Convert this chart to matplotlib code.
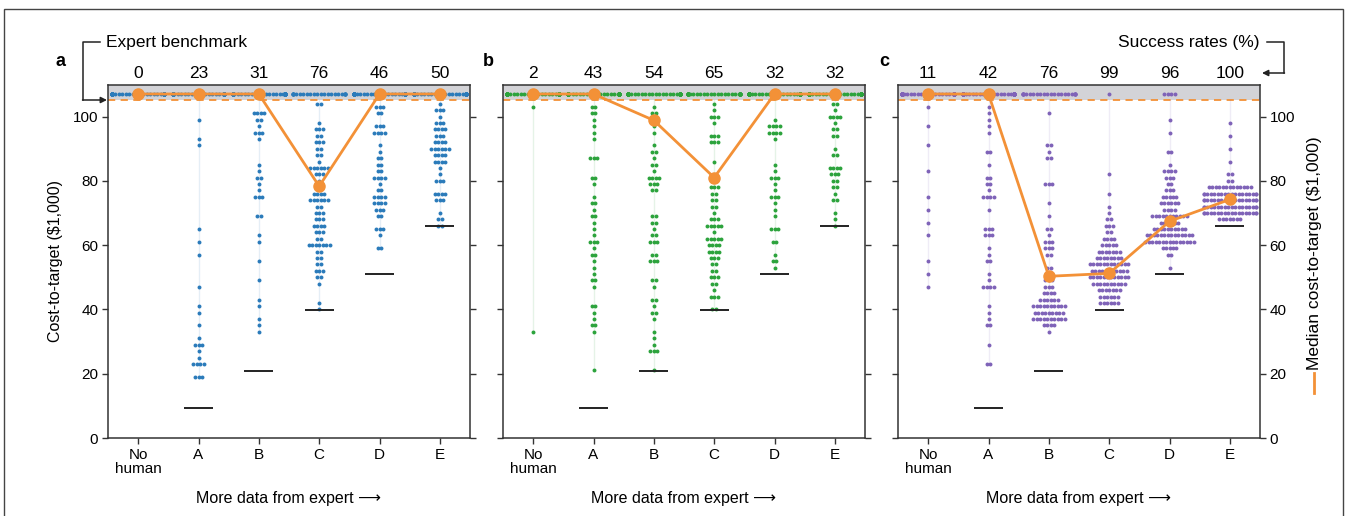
"""Cost-to-target swarms for three training set-ups, with expert benchmark and medians."""

import matplotlib

matplotlib.use("Agg")
import matplotlib.pyplot as plt
import numpy as np
from matplotlib.lines import Line2D
from matplotlib.patches import Rectangle
from matplotlib.transforms import blended_transform_factory

plt.rcParams["font.family"] = ["Liberation Sans", "DejaVu Sans"]
plt.rcParams["font.size"] = 11

W, H = 1351, 516

categories = ["No\nhuman", "A", "B", "C", "D", "E"]
panel_labels = ["a", "b", "c"]
dot_colors = ["#2b7bba", "#2ca33c", "#7f63b8"]

success_a = [0, 23, 31, 76, 46, 50]
success_b = [2, 43, 54, 65, 32, 32]
success_c = [11, 42, 76, 99, 96, 100]

# median cost-to-target; 107 = failure level (grey band)
median_a = [107, 107, 107, 78.3, 107, 107]
median_b = [107, 107, 98.8, 81, 107, 107]
median_c = [107, 107, 50.3, 51.2, 67.4, 74.2]

# expert benchmark for A..E
benchmark = [9.2, 20.9, 39.9, 51.1, 65.8]

# successful runs: (cost, count) per category
costs_a = [
    [],
    [(99, 1), (93, 1), (91, 1), (65, 1), (61, 1), (57, 1), (47, 1), (41, 1), (39, 1), (35, 1),
     (31, 1), (29, 3), (27, 1), (25, 1), (23, 4), (19, 3)],
    [(101, 4), (99, 2), (97, 1), (95, 3), (93, 1), (85, 1), (83, 1), (81, 2), (79, 1), (77, 1),
     (75, 3), (69, 2), (63, 1), (61, 1), (55, 1), (49, 1), (43, 1), (41, 1), (37, 1), (35, 1), (33, 1)],
    [(104, 2), (98, 1), (96, 3), (94, 2), (92, 3), (90, 2), (88, 2), (86, 1), (84, 6), (82, 3),
     (80, 1), (78, 2), (76, 4), (74, 6), (72, 2), (70, 3), (68, 3), (66, 4), (64, 3), (62, 2),
     (60, 7), (58, 2), (56, 2), (54, 2), (52, 3), (50, 2), (48, 1), (42, 1), (40, 1)],
    [(103, 3), (101, 2), (97, 3), (95, 4), (91, 1), (89, 1), (87, 2), (85, 2), (83, 2), (81, 4),
     (79, 1), (77, 2), (75, 4), (73, 4), (71, 3), (69, 2), (65, 3), (63, 1), (59, 2)],
    [(104, 1), (102, 3), (100, 1), (98, 3), (96, 4), (94, 3), (92, 4), (90, 6), (88, 4), (86, 4),
     (84, 1), (82, 1), (80, 3), (76, 4), (74, 3), (70, 1), (68, 2), (66, 2)],
]
costs_b = [
    [(103, 1), (33, 1)],
    [(103, 2), (101, 2), (99, 1), (97, 1), (95, 1), (93, 1), (87, 3), (81, 2), (79, 1), (75, 1),
     (73, 2), (71, 1), (69, 2), (67, 1), (65, 1), (63, 1), (61, 3), (59, 1), (57, 2), (55, 1),
     (53, 1), (51, 1), (49, 2), (47, 1), (41, 2), (39, 1), (37, 1), (35, 2), (33, 1), (21, 1)],
    [(103, 1), (101, 2), (99, 2), (97, 1), (95, 1), (91, 1), (89, 2), (87, 1), (85, 2), (83, 1),
     (81, 4), (79, 3), (77, 2), (69, 2), (67, 2), (65, 1), (63, 2), (61, 3), (57, 2), (55, 3),
     (49, 2), (47, 1), (43, 2), (41, 1), (39, 2), (37, 1), (33, 1), (31, 1), (29, 1), (27, 3), (21, 1)],
    [(104, 1), (102, 1), (100, 3), (98, 1), (94, 3), (92, 3), (86, 1), (80, 2), (78, 3), (76, 2),
     (74, 2), (72, 2), (70, 1), (68, 3), (66, 5), (64, 1), (62, 5), (60, 4), (58, 4), (56, 3),
     (54, 2), (52, 2), (50, 3), (48, 2), (46, 1), (44, 3), (40, 2)],
    [(99, 1), (97, 4), (95, 4), (93, 1), (85, 1), (83, 1), (81, 3), (79, 1), (77, 1), (75, 3),
     (73, 1), (71, 1), (69, 1), (65, 3), (61, 2), (57, 1), (55, 2), (53, 1)],
    [(104, 2), (102, 1), (100, 4), (98, 1), (96, 2), (94, 2), (90, 1), (88, 2), (84, 4), (82, 3),
     (80, 2), (78, 2), (76, 1), (74, 2), (70, 1), (68, 1), (66, 1)],
]
costs_c = [
    [(103, 1), (97, 1), (91, 1), (83, 1), (75, 1), (71, 1), (67, 1), (63, 1), (55, 1), (51, 1), (47, 1)],
    [(103, 1), (101, 1), (99, 1), (97, 1), (95, 1), (89, 2), (85, 1), (81, 2), (79, 2), (77, 1),
     (75, 4), (71, 1), (65, 3), (63, 3), (59, 1), (57, 1), (55, 2), (51, 1), (49, 1), (47, 4),
     (41, 1), (39, 1), (37, 1), (35, 2), (29, 1), (23, 2)],
    [(101, 1), (91, 2), (89, 1), (87, 2), (79, 3), (73, 1), (69, 1), (65, 2), (63, 1), (61, 3),
     (59, 3), (57, 2), (53, 2), (51, 2), (49, 3), (47, 3), (45, 4), (43, 6), (41, 10), (39, 9),
     (37, 10), (35, 4), (33, 1)],
    [(82, 1), (76, 1), (72, 1), (70, 1), (68, 2), (66, 3), (64, 2), (62, 4), (60, 5), (58, 7),
     (56, 8), (54, 12), (52, 11), (50, 12), (48, 10), (46, 7), (44, 6), (42, 6)],
    [(99, 1), (95, 1), (89, 2), (85, 1), (83, 4), (81, 3), (79, 2), (77, 3), (75, 5), (73, 6),
     (71, 4), (69, 11), (67, 6), (65, 10), (63, 14), (61, 15), (59, 5), (57, 2), (53, 1)],
    [(98, 1), (94, 1), (90, 1), (86, 1), (82, 2), (80, 2), (78, 13), (76, 18), (74, 18), (72, 18),
     (70, 18), (68, 7)],
]

FAIL_LEVEL = 107
BAND_LOW = 105
ORANGE = "#f39137"
INK = "#222222"


def px(x, y):
    return x / W, 1 - y / H


def swarm_offsets(n, dx=0.058, half=0.43):
    # points that do not fit pile up at the edges, as in a seaborn swarm
    offs = (np.arange(n) - (n - 1) / 2) * dx
    return np.clip(offs, -half, half)


fig = plt.figure(figsize=(W / 100, H / 100), dpi=100)
fig.patches.append(Rectangle(px(4, 530), 1339 / W, 521 / H, transform=fig.transFigure,
                             fill=False, edgecolor="#444444", linewidth=1))

lefts = [108, 503, 898]
panels = [(success_a, median_a, costs_a), (success_b, median_b, costs_b), (success_c, median_c, costs_c)]
x = np.arange(len(categories))

for k, (success, median, costs) in enumerate(panels):
    ax = fig.add_axes([lefts[k] / W, 1 - 438 / H, 362 / W, 353 / H])
    ax.set_xlim(-0.5, 5.5)
    ax.set_ylim(0, 109.8)
    ax.axhspan(BAND_LOW, 109.8, color="#d3d3d7", zorder=0, linewidth=0)
    ax.axhline(BAND_LOW, color=ORANGE, lw=1.3, dashes=(4, 3), zorder=1)
    color = dot_colors[k]

    for i, rows in enumerate(costs):
        xs, ys = [], []
        for value, count in rows:
            xs.extend(i + swarm_offsets(count))
            ys.extend([value] * count)
        if ys:
            ax.plot([i, i], [min(ys), BAND_LOW], color=color, alpha=0.12, lw=1, zorder=1)
        n_fail = 100 - success[i]
        xs.extend(i + swarm_offsets(n_fail))
        ys.extend([FAIL_LEVEL] * n_fail)
        ax.scatter(xs, ys, s=8, color=color, linewidths=0, zorder=2)

    ax.hlines(benchmark, x[1:] - 0.24, x[1:] + 0.24, color=INK, lw=1.4, zorder=3)
    ax.plot(x, median, color=ORANGE, lw=2, marker="o", markersize=8, zorder=4)

    top = blended_transform_factory(ax.transData, ax.transAxes)
    for i, s in enumerate(success):
        ax.annotate(str(s), (i, 1.0), xycoords=top, xytext=(0, 3), textcoords="offset points",
                    ha="center", va="bottom", fontsize=12.5)

    ax.set_xticks(x)
    ax.set_xticklabels(categories, linespacing=1.0)
    ax.set_yticks([0, 20, 40, 60, 80, 100])
    ax.tick_params(direction="out", length=4, width=1, color="#333333", labelsize=11,
                   left=True, right=True, labelleft=(k == 0), labelright=(k == 2), pad=3)
    for spine in ax.spines.values():
        spine.set_color("#333333")
        spine.set_linewidth(1.1)
    ax.set_xlabel("More data from expert \u27f6", labelpad=11, fontsize=11.5)
    if k == 0:
        ax.set_ylabel("Cost-to-target ($1,000)", labelpad=7, fontsize=11.5)

    fig.text(*px([61, 488, 884][k], 62), panel_labels[k], fontweight="bold", fontsize=13,
             ha="center", va="center")

# bracket labels
fig.text(*px(106, 42), "Expert benchmark", ha="left", va="center", fontsize=12.5)
fig.add_artist(Line2D([100 / W, 83 / W, 83 / W], [1 - 42 / H, 1 - 42 / H, 1 - 100 / H],
                      color=INK, lw=1.1, transform=fig.transFigure))
plt.annotate("", xy=px(107, 100), xycoords="figure fraction", xytext=px(82.5, 100),
             textcoords="figure fraction",
             arrowprops=dict(arrowstyle="-|>", color=INK, lw=1.1, mutation_scale=9,
                             shrinkA=0, shrinkB=0))

fig.text(*px(1259, 42), "Success rates (%)", ha="right", va="center", fontsize=12.5)
fig.add_artist(Line2D([1267 / W, 1284 / W, 1284 / W], [1 - 42 / H, 1 - 42 / H, 1 - 73 / H],
                      color=INK, lw=1.1, transform=fig.transFigure))
plt.annotate("", xy=px(1262, 73), xycoords="figure fraction", xytext=px(1284.5, 73),
             textcoords="figure fraction",
             arrowprops=dict(arrowstyle="-|>", color=INK, lw=1.1, mutation_scale=9,
                             shrinkA=0, shrinkB=0))

# right-hand label with orange key
fig.text(*px(1314, 370), "Median cost-to-target ($1,000)", rotation=90, ha="center", va="bottom",
         fontsize=12.5)
fig.add_artist(Line2D([1314 / W, 1314 / W], [1 - 373 / H, 1 - 393 / H], color=ORANGE, lw=2,
                      transform=fig.transFigure))

fig.savefig("out.png", dpi=100)
